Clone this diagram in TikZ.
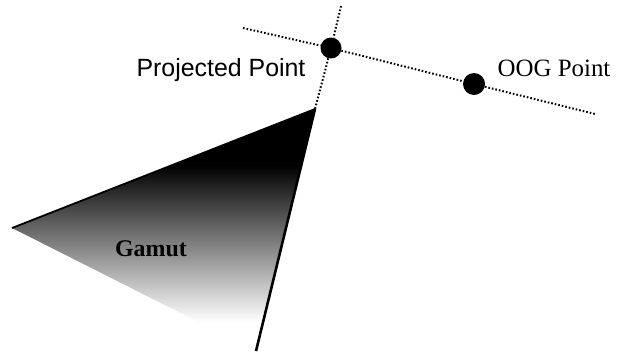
\documentclass[tikz,border=0pt]{standalone}
\usepackage{fontspec}
\setmainfont{Liberation Serif}
\setsansfont{Liberation Sans}
\usetikzlibrary{positioning}
\tikzset{
  every picture/.style={line join=round},
  gdot/.style={circle, fill=black, inner sep=0pt, minimum size=21bp},
  dotline/.style={draw=black, line width=2bp, dash pattern=on 1.6bp off 2bp},
  edge/.style={draw=black, line width=2.6bp},
  lbl/.style={font=\fontsize{25}{30}\selectfont, anchor=base, inner sep=0pt},
  sanslbl/.style={lbl, font=\fontsize{25}{30}\selectfont\sffamily},
}

\begin{document}
\begin{tikzpicture}[x=1bp, y=-1bp]
\useasboundingbox (0,0) rectangle (617,356);

% ---- gamut
\coordinate (gtip) at (12,228);
\coordinate (gtop) at (315,109);
\coordinate (gbot) at (256,351);
\begin{scope}
  \clip (gtip) -- (gtop) -- (gbot) -- cycle;
  \fill[black] (0,100) rectangle (330,166);
  \shade[top color=black, middle color=black!50, bottom color=white]
    (0,165) rectangle (330,322);
\end{scope}
\draw[edge, line width=1.8bp] (gtip) -- (gtop);
\draw[edge] (gtop) -- (gbot);
\node[lbl, font=\fontsize{24}{30}\selectfont\bfseries] (gamut) at (151,256) {Gamut};

% ---- projection lines and points
\coordinate (vtop) at (341,6);
\coordinate (hleft) at (243,28);
\coordinate (hright) at (595,114);
\node[gdot] (proj) at (331,48) {};
\node[gdot, minimum size=22bp] (oog) at (474,84) {};
\draw[dotline] (vtop) -- (proj) -- (gtop);
\draw[dotline] (hleft) -- (proj) -- (oog) -- (hright);

\node[sanslbl] (projlbl) at (221,76) {Projected Point};
\node[lbl] (ooglbl) at (554,76) {OOG Point};

\end{tikzpicture}
\end{document}
